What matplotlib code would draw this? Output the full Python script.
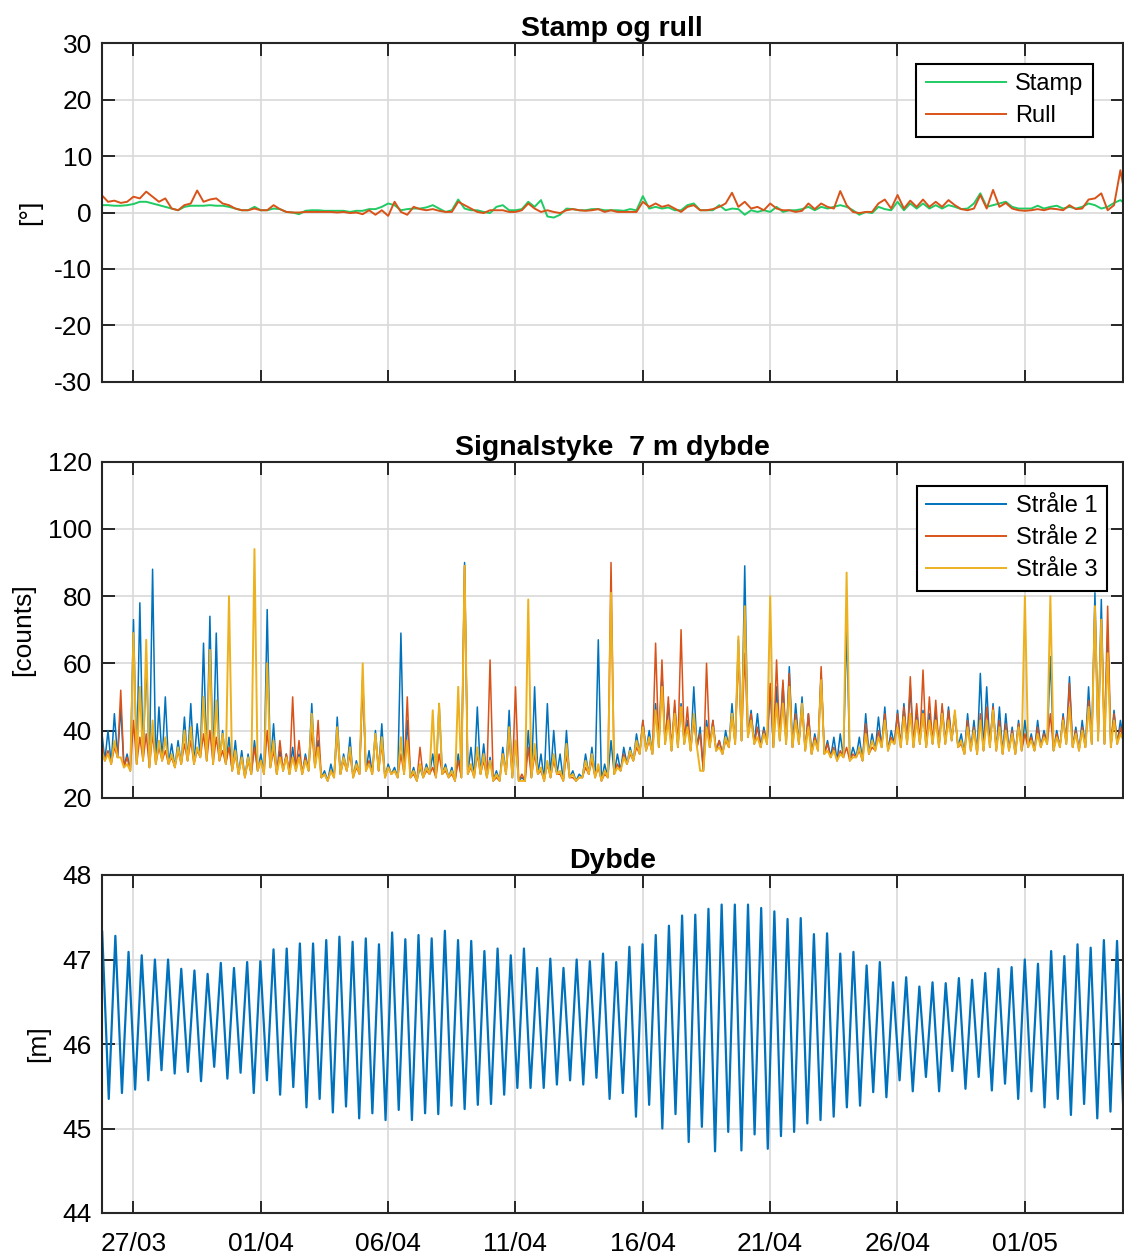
import matplotlib
matplotlib.use("Agg")
import matplotlib.pyplot as plt
import matplotlib.dates as mdates
import numpy as np
import pandas as pd

plt.rcParams["font.family"] = ["Liberation Sans", "DejaVu Sans"]
plt.rcParams["axes.unicode_minus"] = False

# ---- data (6-hourly samples from 25/03 18:10) ----
t0 = pd.Timestamp("2019-03-25 18:10")
step = pd.Timedelta(hours=6)

# pitch / roll [deg]
stamp = [1.3, 1.3, 1.2, 1.2, 1.3, 1.5, 1.9, 1.9, 1.6, 1.3,
         1.0, 0.7, 0.4, 1.0, 1.2, 1.2, 1.2, 1.3, 1.2, 1.2,
         1.0, 0.7, 0.4, 0.4, 1.0, 0.4, 0.4, 0.7, 0.6, 0.1,
         0.0, -0.3, 0.3, 0.4, 0.4, 0.3, 0.3, 0.3, 0.3, 0.1,
         0.3, 0.3, 0.6, 0.6, 1.0, 1.6, 1.3, 0.4, 0.6, 0.7,
         0.7, 0.9, 1.3, 0.7, 0.1, 0.4, 2.3, 0.7, 0.4, 0.4,
         0.1, -0.1, 1.0, 1.3, 0.4, 0.4, 0.6, 1.9, 1.0, 2.2,
         -0.7, -0.9, -0.4, 0.7, 0.6, 0.4, 0.4, 0.6, 0.6, 0.4,
         0.4, 0.4, 0.3, 0.6, 0.4, 2.9, 0.7, 1.0, 0.7, 0.9,
         0.4, 0.4, 1.3, 1.6, 0.4, 0.4, 0.4, 1.3, 0.4, 0.7,
         0.6, -0.4, 0.4, 0.1, 0.4, 0.1, 1.0, 0.1, 0.4, 0.4,
         0.6, 1.0, 0.4, 1.0, 0.7, 1.0, 1.3, 1.0, 0.4, -0.4,
         0.1, -0.1, 1.0, 0.6, 0.4, 1.9, 0.4, 1.6, 0.7, 1.6,
         0.7, 1.3, 0.7, 1.3, 1.0, 0.6, 0.7, 1.6, 3.4, 1.0,
         1.3, 1.6, 1.9, 1.0, 0.7, 0.7, 0.7, 1.2, 0.7, 1.0,
         1.2, 0.7, 1.0, 0.7, 1.0, 1.6, 1.3, 0.7, 1.0, 1.7,
         2.2, 1.3]
rull = [3.1, 1.9, 2.1, 1.7, 1.9, 2.8, 2.5, 3.7, 2.8, 1.9,
        2.5, 0.7, 0.4, 1.3, 1.6, 3.9, 1.9, 2.3, 2.5, 1.6,
        1.3, 0.7, 0.4, 0.4, 0.7, 0.4, 0.4, 1.3, 0.6, 0.1,
        0.0, 0.0, 0.1, 0.1, 0.1, 0.1, 0.1, 0.0, 0.1, -0.1,
        0.0, -0.3, 0.4, -0.4, 0.4, -0.6, 1.9, 0.1, -0.4, 1.0,
        0.6, 0.4, 0.6, 0.3, 0.1, 0.1, 1.9, 1.3, 0.7, 0.1,
        -0.1, 0.4, 0.4, 0.4, 0.1, 0.1, 0.4, 1.6, 0.7, 0.1,
        0.4, 0.1, -0.1, 0.4, 0.6, 0.4, 0.3, 0.4, 0.6, 0.1,
        0.4, 0.1, 0.1, 0.1, 0.1, 1.9, 1.0, 1.6, 1.0, 1.3,
        0.7, 0.1, 1.0, 1.3, 0.4, 0.4, 0.6, 1.0, 1.6, 3.5,
        1.0, 1.9, 0.7, 1.0, 0.4, 1.6, 0.7, 0.4, 0.4, 0.1,
        0.3, 1.6, 0.6, 1.6, 1.0, 0.7, 3.8, 1.3, 0.1, -0.1,
        0.1, 0.1, 1.6, 2.3, 0.7, 3.1, 0.7, 2.1, 1.0, 2.3,
        1.0, 1.9, 1.0, 2.2, 1.3, 0.6, 0.4, 0.7, 3.1, 0.7,
        4.0, 1.0, 1.7, 0.7, 0.4, 0.3, 0.4, 0.6, 0.4, 0.7,
        0.6, 0.4, 1.3, 0.6, 0.7, 2.3, 2.5, 3.4, 0.4, 1.3,
        7.5, 1.3]

# signal strength [counts], 6-hourly maxima per beam
straale1 = [40, 40, 45, 47, 33, 73, 78, 61, 88, 47,
            50, 36, 37, 44, 48, 42, 66, 74, 69, 40,
            38, 37, 34, 33, 37, 33, 76, 42, 34, 33,
            35, 33, 33, 48, 37, 28, 30, 44, 33, 38,
            31, 56, 34, 40, 42, 30, 29, 69, 43, 29,
            29, 30, 33, 48, 30, 29, 33, 90, 35, 47,
            36, 32, 28, 35, 46, 37, 26, 40, 53, 33,
            48, 40, 33, 40, 28, 27, 33, 35, 67, 30,
            37, 33, 35, 35, 39, 43, 40, 48, 57, 48,
            47, 48, 43, 53, 41, 43, 43, 37, 40, 48,
            67, 89, 46, 45, 41, 53, 53, 54, 59, 48,
            50, 45, 39, 57, 37, 38, 39, 71, 35, 38,
            45, 39, 44, 47, 40, 46, 48, 53, 46, 46,
            45, 46, 47, 47, 45, 39, 45, 43, 57, 53,
            48, 47, 45, 41, 43, 43, 39, 43, 40, 62,
            40, 45, 56, 41, 43, 53, 81, 79, 69, 46,
            43, 48]
straale2 = [37, 34, 35, 52, 32, 43, 38, 39, 39, 35,
            34, 32, 34, 36, 37, 34, 39, 40, 38, 34,
            35, 33, 32, 31, 35, 31, 40, 34, 37, 33,
            50, 37, 32, 40, 43, 27, 28, 39, 31, 33,
            29, 55, 31, 38, 36, 29, 28, 33, 50, 27,
            35, 28, 29, 33, 28, 27, 31, 89, 29, 33,
            31, 61, 26, 33, 38, 53, 27, 35, 33, 28,
            30, 31, 27, 33, 26, 26, 29, 31, 29, 27,
            90, 30, 33, 33, 35, 43, 37, 66, 61, 50,
            49, 70, 47, 43, 39, 60, 43, 37, 37, 45,
            63, 63, 45, 41, 40, 54, 61, 55, 57, 45,
            47, 45, 38, 59, 36, 35, 34, 35, 33, 34,
            42, 35, 40, 45, 38, 45, 47, 56, 48, 58,
            50, 49, 48, 46, 45, 36, 43, 41, 45, 47,
            47, 43, 42, 40, 42, 39, 38, 41, 39, 45,
            39, 44, 54, 40, 41, 49, 77, 73, 77, 45,
            41, 43]
straale3 = [34, 33, 37, 32, 30, 69, 53, 67, 43, 37,
            38, 33, 35, 40, 41, 35, 50, 64, 49, 39,
            80, 34, 32, 32, 94, 31, 60, 37, 32, 32,
            32, 32, 31, 45, 35, 27, 28, 41, 32, 35,
            30, 60, 30, 39, 38, 29, 28, 38, 37, 28,
            30, 29, 46, 48, 29, 28, 53, 89, 30, 35,
            33, 31, 27, 33, 41, 37, 25, 79, 36, 29,
            31, 33, 28, 36, 27, 26, 31, 33, 30, 28,
            81, 29, 32, 34, 37, 41, 38, 46, 53, 43,
            45, 47, 41, 45, 28, 41, 41, 35, 38, 45,
            68, 77, 43, 38, 39, 80, 48, 48, 53, 43,
            48, 41, 37, 55, 34, 34, 33, 87, 32, 35,
            39, 37, 38, 43, 37, 41, 44, 45, 43, 45,
            43, 43, 45, 43, 46, 37, 41, 40, 43, 43,
            46, 41, 40, 39, 41, 80, 37, 39, 38, 80,
            38, 43, 47, 39, 40, 47, 77, 73, 63, 43,
            39, 43]
# bottom of the signal band, between the 6-hourly samples (all beams)
bunn = [31, 30, 32, 29, 28, 30, 31, 29, 30, 31,
        30, 29, 30, 31, 30, 32, 31, 30, 31, 30,
        28, 27, 26, 27, 28, 27, 29, 27, 28, 27,
        28, 27, 28, 29, 26, 25, 26, 27, 28, 26,
        27, 28, 27, 28, 26, 27, 26, 27, 26, 25,
        26, 27, 26, 27, 26, 25, 26, 27, 26, 27,
        26, 25, 25, 27, 26, 25, 25, 26, 27, 25,
        26, 27, 25, 26, 25, 26, 27, 26, 25, 26,
        27, 28, 30, 31, 33, 34, 33, 35, 36, 34,
        35, 36, 34, 35, 28, 35, 34, 33, 35, 36,
        37, 38, 36, 35, 36, 35, 37, 36, 35, 36,
        34, 33, 34, 33, 32, 31, 32, 31, 32, 31,
        33, 34, 35, 34, 36, 35, 36, 35, 36, 35,
        36, 35, 36, 37, 35, 33, 34, 33, 34, 35,
        34, 33, 34, 33, 34, 35, 34, 35, 36, 34,
        35, 36, 35, 34, 35, 36, 37, 36, 35, 36,
        37]

# depth: high and low water levels [m], one per half tide
tide_t0 = pd.Timestamp("2019-03-25 18:40")
tide_half = pd.Timedelta(minutes=372.6)
hoey = [47.33, 47.28, 47.09, 47.05, 47.00, 47.00, 46.89, 46.87, 46.83, 46.96,
        46.90, 46.97, 46.98, 47.12, 47.13, 47.19, 47.19, 47.23, 47.27, 47.21,
        47.25, 47.18, 47.32, 47.24, 47.29, 47.25, 47.34, 47.23, 47.22, 47.10,
        47.13, 47.05, 47.13, 46.90, 47.01, 46.90, 47.00, 46.98, 47.07, 46.97,
        47.15, 47.18, 47.29, 47.40, 47.52, 47.53, 47.60, 47.65, 47.65, 47.65,
        47.61, 47.57, 47.48, 47.49, 47.30, 47.31, 47.07, 47.09, 46.93, 46.97,
        46.73, 46.79, 46.68, 46.73, 46.72, 46.78, 46.76, 46.84, 46.89, 46.91,
        47.00, 46.95, 47.10, 47.04, 47.18, 47.14, 47.23, 47.22]
lav = [45.35, 45.42, 45.46, 45.57, 45.69, 45.65, 45.67, 45.56, 45.73, 45.59,
       45.66, 45.42, 45.57, 45.40, 45.49, 45.25, 45.35, 45.19, 45.26, 45.12,
       45.18, 45.10, 45.22, 45.10, 45.18, 45.17, 45.27, 45.23, 45.28, 45.29,
       45.40, 45.48, 45.48, 45.48, 45.52, 45.57, 45.52, 45.60, 45.35, 45.42,
       45.14, 45.28, 45.00, 45.17, 44.84, 45.02, 44.73, 44.96, 44.74, 44.93,
       44.76, 44.91, 44.96, 45.06, 45.10, 45.14, 45.25, 45.27, 45.43, 45.37,
       45.57, 45.44, 45.61, 45.44, 45.68, 45.47, 45.61, 45.45, 45.53, 45.35,
       45.44, 45.25, 45.35, 45.16, 45.29, 45.12, 45.20, 45.10]

xticks = pd.date_range("2019-03-27", periods=8, freq="5D")
xlim = (pd.Timestamp("2019-03-25 18:13"), pd.Timestamp("2019-05-04 20:37"))

# ---- time axes ----
t6 = pd.date_range(t0, periods=len(stamp), freq=step)
t_bunn = pd.date_range(t0 + step / 2, periods=len(bunn), freq=step)


def with_minima(peaks):
    """Interleave 6-hourly maxima with the band minima."""
    t = np.empty(len(peaks) + len(bunn), dtype="datetime64[ns]")
    y = np.empty(len(t))
    t[0::2] = t6.values[: len(peaks)]
    t[1::2] = t_bunn.values
    y[0::2] = peaks
    y[1::2] = bunn
    return t, y


n_tide = len(hoey) + len(lav)
t_tide = pd.date_range(tide_t0, periods=n_tide, freq=tide_half)
dybde = np.empty(n_tide)
dybde[0::2] = hoey
dybde[1::2] = lav

# ---- figure ----
W, H = 1124, 1258
fig = plt.figure(figsize=(W / 100, H / 100), dpi=100)
left, right = 101.7, 1123
boxes = [(43.3, 381.7), (461.7, 797.7), (875, 1213)]
axs = [fig.add_axes([left / W, 1 - b / H, (right - left) / W, (b - t) / H]) for t, b in boxes]

blue, red, yellow = "#0072BD", "#D95319", "#EDB120"
green = "#1FCB63"

ax = axs[0]
ax.plot(t6, stamp, color=green, lw=1.4, label="Stamp")
ax.plot(t6, rull, color=red, lw=1.4, label="Rull")
ax.set_ylim(-30, 30)
ax.set_yticks(np.arange(-30, 31, 10))
ax.set_title("Stamp og rull", fontsize=20.5, fontweight="bold", pad=5)
ax.set_ylabel("[°]", fontsize=19)
ax.yaxis.set_label_coords(-0.070, 0.5)

ax = axs[1]
for vals, col, lab, lw in [(straale1, blue, "Stråle 1", 1.1), (straale2, red, "Stråle 2", 1.1),
                           (straale3, yellow, "Stråle 3", 1.4)]:
    tt, yy = with_minima(vals)
    ax.plot(tt, yy, color=col, lw=lw, label=lab)
ax.set_ylim(20, 120)
ax.set_yticks(np.arange(20, 121, 20))
ax.set_title("Signalstyke  7 m dybde", fontsize=20.5, fontweight="bold", pad=5)
ax.set_ylabel("[counts]", fontsize=19)
ax.yaxis.set_label_coords(-0.077, 0.5)

ax = axs[2]
ax.plot(t_tide, dybde, color=blue, lw=1.6, solid_joinstyle="round")
ax.set_ylim(44, 48)
ax.set_yticks(np.arange(44, 48.1, 1))
ax.set_title("Dybde", fontsize=20.5, fontweight="bold", pad=5)
ax.set_ylabel("[m]", fontsize=19)
ax.yaxis.set_label_coords(-0.062, 0.5)

for i, ax in enumerate(axs):
    ax.set_xlim(*xlim)
    ax.set_xticks(xticks)
    ax.xaxis.set_major_formatter(mdates.DateFormatter("%d/%m"))
    ax.grid(True, color="#d9d9d9", lw=1.2)
    ax.set_axisbelow(True)
    ax.tick_params(direction="in", length=9, width=1.4, top=True, right=True,
                   labelsize=19, pad=7, color="#262626")
    ax.tick_params(axis="x", pad=14)
    for sp in ax.spines.values():
        sp.set_linewidth(1.5)
        sp.set_color("#262626")
    ax.yaxis.label.set_va("center")
    if i < 2:
        ax.tick_params(labelbottom=False)

leg_kw = dict(loc="upper right", fontsize=17, fancybox=False, framealpha=1,
              edgecolor="black", handlelength=3.4, handletextpad=0.4,
              labelspacing=0.42, borderpad=0.4, borderaxespad=0)
lg = axs[0].legend(bbox_to_anchor=(0.9706, 0.939), **leg_kw)
lg.get_frame().set_linewidth(1.5)
lg = axs[1].legend(bbox_to_anchor=(0.9843, 0.928), **leg_kw)
lg.get_frame().set_linewidth(1.5)
for lg in (axs[0].get_legend(), axs[1].get_legend()):
    for h in lg.get_lines():
        h.set_linewidth(1.4)

fig.savefig("out.png", dpi=100)
